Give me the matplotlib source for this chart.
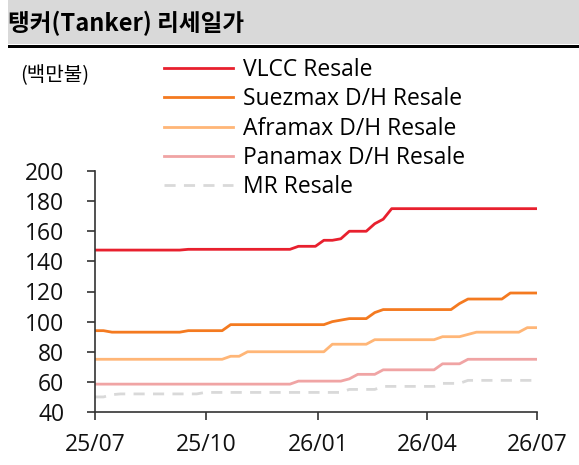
import matplotlib
matplotlib.use("Agg")
import matplotlib.pyplot as plt
import matplotlib.dates as mdates
import numpy as np
import pandas as pd

plt.rcParams['font.family'] = ['Open Sans', 'Noto Sans CJK KR', 'DejaVu Sans']

# weekly observations, 2025-07 .. 2026-06
dates = pd.date_range("2025-07-01", periods=53, freq="7D")

vlcc = [147.5] * 11 + [148] * 13 + [150] * 3 + [154, 154, 155] + [160] * 3 + [165, 168] + [175] * 18
suezmax = [94, 94] + [93] * 9 + [94] * 5 + [98] * 12 + [100, 101] + [102] * 3 + [106] + [108] * 9 \
    + [112] + [115] * 5 + [119] * 4
aframax = [75] * 16 + [77, 77] + [80] * 10 + [85] * 5 + [88] * 8 + [90] * 3 + [91.5] + [93] * 6 + [96, 96]
panamax = [58.5] * 24 + [60.5] * 6 + [62] + [65] * 3 + [68] * 7 + [72] * 3 + [75] * 9
mr = [50, 50, 51.5] + [52] * 10 + [53] * 17 + [55] * 4 + [57] * 7 + [59] * 3 + [61] * 9

series = [
    ("VLCC Resale", vlcc, "#E8202E", "-"),
    ("Suezmax D/H Resale", suezmax, "#F47A20", "-"),
    ("Aframax D/H Resale", aframax, "#FFB677", "-"),
    ("Panamax D/H Resale", panamax, "#F0A4A4", "-"),
    ("MR Resale", mr, "#D9D9D9", "--"),
]

fig = plt.figure(figsize=(5.79, 4.65), dpi=100)

# header band
fig.patches.append(plt.Rectangle((8 / 579, 1 - 44 / 465), 1, 44 / 465, transform=fig.transFigure,
                                 facecolor="#D9D9D9", edgecolor="none"))
fig.patches.append(plt.Rectangle((8 / 579, 1 - 48 / 465), 1, 3 / 465, transform=fig.transFigure,
                                 facecolor="black", edgecolor="none"))
fig.text(8 / 579, 1 - 23 / 465, "탱커(Tanker) 리세일가", fontsize=17, fontweight="bold",
         va="center", ha="left", family=['Noto Sans CJK KR'])
fig.text(20 / 579, 1 - 76 / 465, "(백만불)", fontsize=14.5, va="center", ha="left",
         family=['Noto Sans CJK KR'])

ax = fig.add_axes([95 / 579, 1 - 412 / 465, 442 / 579, 241 / 465])
for name, vals, color, ls in series:
    ax.plot(dates, vals, color=color, lw=2.0, ls=ls, label=name,
            dashes=(4, 3) if ls == "--" else (None, None))

ax.set_ylim(40, 200)
ax.set_yticks(np.arange(40, 201, 20))
ax.set_xlim(pd.Timestamp("2025-07-01"), pd.Timestamp("2026-07-01"))
ax.xaxis.set_major_locator(mdates.MonthLocator(bymonth=[1, 4, 7, 10]))
ax.xaxis.set_major_formatter(mdates.DateFormatter("%y/%m"))
for s in ["top", "right"]:
    ax.spines[s].set_visible(False)
for s in ["left", "bottom"]:
    ax.spines[s].set_color("#333333")
    ax.spines[s].set_linewidth(1.2)
ax.tick_params(axis="both", direction="out", length=6, width=1.2, color="#333333",
               labelsize=16.5, labelcolor="#111111")
ax.tick_params(axis="x", pad=9)
ax.tick_params(axis="y", pad=16)

fig.legend(loc="upper left", bbox_to_anchor=(164 / 579, 1 - 58 / 465), frameon=False,
           fontsize=16.5, handlelength=3.0, handletextpad=0.45, labelspacing=0.23,
           borderpad=0, borderaxespad=0)

fig.savefig("out.png", dpi=100)
